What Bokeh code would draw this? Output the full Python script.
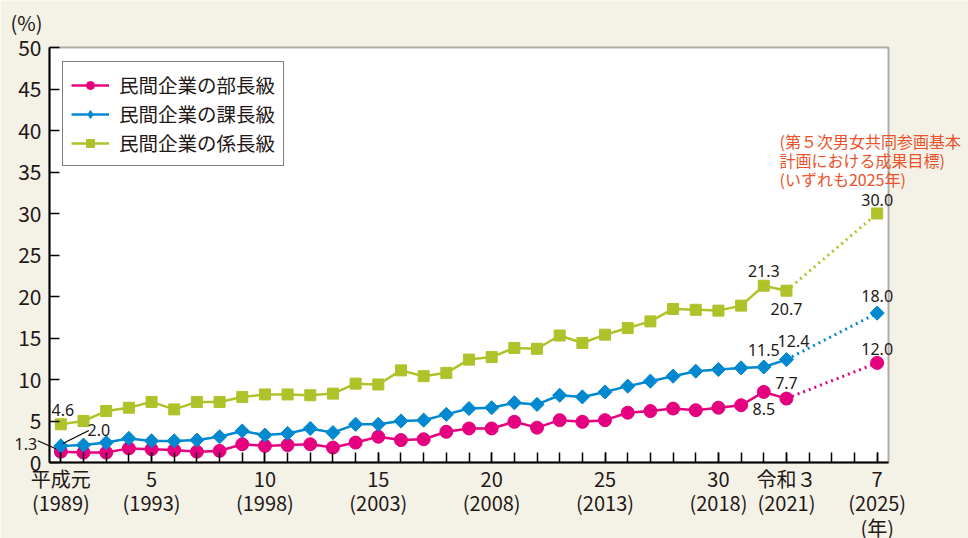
from bokeh.plotting import figure
from bokeh.models import (Range1d, FixedTicker, Label, Arrow, Legend, LegendItem,
                          LinearAxis, BoxAnnotation)
from bokeh.embed import file_html
from bokeh.resources import INLINE
import numpy as np

# ---------------- data ----------------
years = list(range(1989, 2022))
bucho = [1.3, 1.2, 1.2, 1.7, 1.6, 1.5, 1.3, 1.4, 2.2, 2.0, 2.1, 2.2,
         1.8, 2.4, 3.1, 2.7, 2.8, 3.7, 4.1, 4.1, 4.9, 4.2, 5.1, 4.9, 5.1,
         6.0, 6.2, 6.5, 6.3, 6.6, 6.9, 8.5, 7.7]
kacho = [2.0, 2.1, 2.4, 2.9, 2.6, 2.6, 2.7, 3.1, 3.8, 3.3, 3.5, 4.1,
         3.6, 4.6, 4.6, 5.0, 5.1, 5.8, 6.5, 6.6, 7.2, 7.0, 8.1, 7.9, 8.5,
         9.2, 9.8, 10.4, 11.0, 11.2, 11.4, 11.5, 12.4]
kakaricho = [4.6, 5.0, 6.2, 6.6, 7.3, 6.4, 7.3, 7.3, 7.9, 8.2, 8.2, 8.1,
             8.3, 9.5, 9.4, 11.1, 10.4, 10.8, 12.4, 12.7, 13.8, 13.7, 15.3, 14.4, 15.4,
             16.2, 17.0, 18.5, 18.4, 18.3, 18.9, 21.3, 20.7]
target_year = 2025
targets = [12.0, 18.0, 30.0]
series_names = ["民間企業の部長級", "民間企業の課長級", "民間企業の係長級"]
tick_years = [1989, 1993, 1998, 2003, 2008, 2013, 2018, 2021, 2025]
tick_labels = ["平成元\n(1989)", "5\n(1993)", "10\n(1998)", "15\n(2003)", "20\n(2008)",
               "25\n(2013)", "30\n(2018)", "令和３\n(2021)", "7\n(2025)\n(年)"]
y_ticks = list(range(0, 55, 5))
target_note = ["(第５次男女共同参画基本", "計画における成果目標)", "(いずれも2025年)"]

# ---------------- style / layout ----------------
FONT = "Noto Sans CJK JP"
NUMFONT = "Noto Sans"
TXT = "#231815"
BG = "#F4F1E7"
colors = ["#E4007F", "#0088D0", "#AFC22A"]
X0, X1 = 1988.5, 2025.5
Y0, Y1 = 0, 50
W, H = 968, 538
FL, FT, FR, FB = 49, 47, 888, 462          # plot box in page pixels
PXX = (FR - FL) / (X1 - X0)
PXY = (FB - FT) / (Y1 - Y0)
sx = lambda px: X0 + (px - FL) / PXX
sy = lambda py: Y0 + (FB - py) / PXY

p = figure(width=W, height=H, output_backend="svg", toolbar_location=None,
           x_range=Range1d(sx(0), sx(W)), y_range=Range1d(sy(H), sy(0)),
           x_axis_location=None, y_axis_location=None, min_border=0)
p.min_border_left = p.min_border_right = p.min_border_top = p.min_border_bottom = 0
p.background_fill_color = BG
p.border_fill_color = BG
p.outline_line_color = None
for g in p.grid:
    g.visible = False
    g.grid_line_color = None

# plot box
p.add_layout(BoxAnnotation(left=X0, right=X1, bottom=Y0, top=Y1, fill_color="white",
                           fill_alpha=1, line_color="black", line_width=2, level="underlay"))

# axes
xaxis = LinearAxis(fixed_location=Y0, bounds=(X0, X1),
                   ticker=FixedTicker(ticks=tick_years, minor_ticks=list(range(1989, 2026))))
xaxis.major_label_overrides = {y: l for y, l in zip(tick_years, tick_labels)}
yaxis = LinearAxis(fixed_location=X0, bounds=(Y0, Y1),
                   ticker=FixedTicker(ticks=y_ticks, minor_ticks=[]))
for ax in (xaxis, yaxis):
    ax.axis_line_color = "black"
    ax.axis_line_width = 2
    ax.major_tick_in = 10
    ax.major_tick_out = 0
    ax.major_tick_line_color = "black"
    ax.major_tick_line_width = 1.5
    ax.major_label_text_font = FONT
    ax.major_label_text_color = TXT
xaxis.minor_tick_in = 10
xaxis.minor_tick_out = 0
xaxis.minor_tick_line_color = "black"
xaxis.minor_tick_line_width = 1.5
yaxis.minor_tick_line_color = None
xaxis.major_label_text_font_size = "20px"
xaxis.major_label_text_line_height = 0.86
yaxis.major_label_text_font_size = "21px"
xaxis.major_label_standoff = 1
yaxis.major_label_standoff = 8
p.add_layout(xaxis, "below")
p.add_layout(yaxis, "left")

series = [bucho, kacho, kakaricho]
markers = [("circle", 13, 0), ("square", 10, np.pi / 4), ("square", 11, 0)]
legend_markers = [None, ("diamond", 14), None]
items = []
for vals, col, (mk, sz, ang), lkey, name, tgt in zip(series, colors, markers, legend_markers,
                                                     series_names, targets):
    ln = p.line(years, vals, line_color=col, line_width=2.5)
    key = None
    if lkey is not None:
        # legend key glyph (hidden beneath the first data marker)
        key = p.scatter(years[:1], vals[:1], marker=lkey[0], size=lkey[1],
                        fill_color=col, line_color=col)
    sc = p.scatter(years, vals, marker=mk, size=sz, angle=ang, fill_color=col, line_color=col)
    p.line([years[-1], target_year], [vals[-1], tgt], line_color=col, line_width=3,
           line_dash="2 4")
    p.scatter([target_year], [tgt], marker=mk, size=sz, angle=ang, fill_color=col, line_color=col)
    items.append(LegendItem(label=name, renderers=[ln, key if key is not None else sc]))

legend = Legend(items=items, location=(62, H - 166))
legend.border_line_color = "black"
legend.border_line_width = 1.5
legend.background_fill_color = "white"
legend.background_fill_alpha = 1
legend.label_text_font = FONT
legend.label_text_font_size = "19.5px"
legend.label_text_color = TXT
legend.glyph_width = 38
legend.glyph_height = 20
legend.label_height = 20
legend.spacing = -3
legend.padding = 8
legend.margin = 0
legend.label_standoff = 10
p.add_layout(legend)


def lab(x, y, text, dx=0, dy=0, size="16px", font=NUMFONT, color=TXT, align="center"):
    p.add_layout(Label(x=x, y=y, text=text, x_offset=dx, y_offset=dy,
                       text_font=font, text_font_size=size, text_color=color,
                       text_align=align, text_baseline="middle"))


fmt = lambda v: f"{v:.1f}"
# start-year labels
lab(years[0], kakaricho[0], fmt(kakaricho[0]), 2, 14)
lab(years[0], kacho[0], fmt(kacho[0]), 38, 16)
lab(years[0], bucho[0], fmt(bucho[0]), -35, 8)
# leader lines
p.add_layout(Arrow(end=None, x_start=years[0] + 2 / PXX, y_start=kacho[0] + 2.4 / PXY,
                   x_end=years[0] + 28 / PXX, y_end=kacho[0] + 15.4 / PXY,
                   line_color="black", line_width=1.2))
p.add_layout(Arrow(end=None, x_start=years[0] - 23 / PXX, y_start=bucho[0] + 11 / PXY,
                   x_end=years[0] - 5 / PXX, y_end=bucho[0] + 3 / PXY,
                   line_color="black", line_width=1.2))
# last-year labels
lab(years[-2], kakaricho[-2], fmt(kakaricho[-2]), 0, 15)
lab(years[-1], kakaricho[-1], fmt(kakaricho[-1]), 0, -18)
lab(years[-2], kacho[-2], fmt(kacho[-2]), 0, 17)
lab(years[-1], kacho[-1], fmt(kacho[-1]), 7, 19)
lab(years[-2], bucho[-2], fmt(bucho[-2]), 0, -17)
lab(years[-1], bucho[-1], fmt(bucho[-1]), 0, 16)
# targets
for t, off in zip(targets, [14, 17, 14]):
    lab(target_year, t, fmt(t), 0, off)

# note
for i, line in enumerate(target_note):
    lab(sx(779), sy(140 + 19 * i), line, size="16px", font=FONT, color="#E9522B", align="left")

# unit label
lab(sx(26), sy(22), "(%)", size="20px", font=FONT)

open("out.html", "w").write(file_html(p, INLINE))
